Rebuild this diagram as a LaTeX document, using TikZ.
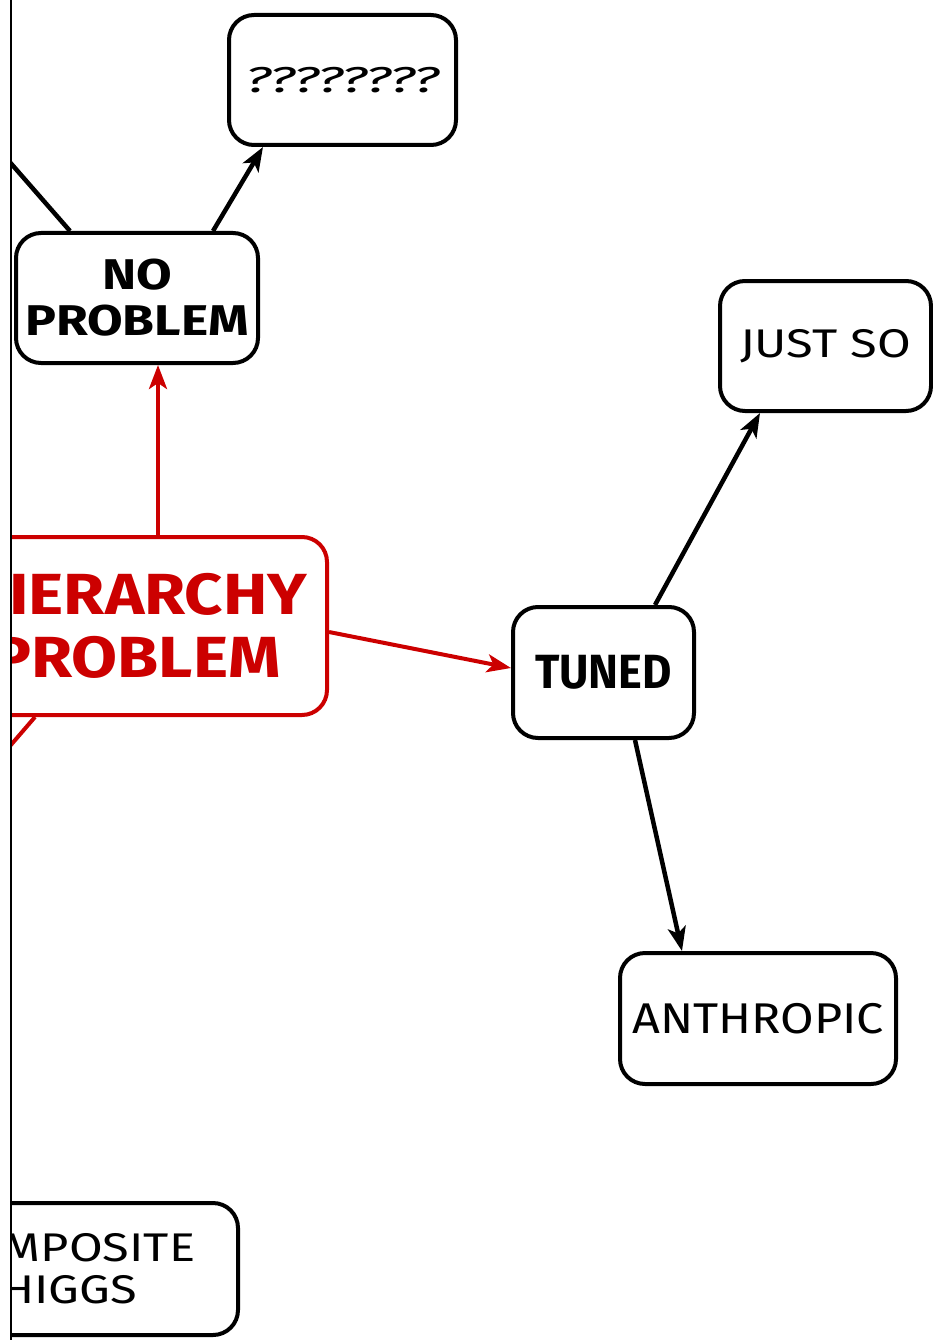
\documentclass[tikz,border=0pt]{standalone}
\usepackage{fontspec}
\setmainfont{Fira Sans}
\usepackage{graphicx}
\usetikzlibrary{arrows.meta,calc}
\definecolor{hred}{RGB}{204,0,0}
\newcommand{\hstretch}[2]{\scalebox{#1}[1]{#2}}
\begin{document}
\begin{tikzpicture}[x=1pt,y=-1pt,
  box/.style={draw=black, line width=4pt, rounded corners=25pt, fill=white, align=center, inner sep=0pt},
  redbox/.style={box, draw=hred, text=hred},
  arr/.style={line width=4.5pt, -{Stealth[length=24pt,width=18pt,inset=6pt]}},
  redarr/.style={arr, draw=hred, line width=4pt},
  plain/.style={line width=4.5pt},
  redplain/.style={line width=4pt, draw=hred}]
\useasboundingbox (0,0) rectangle (933,1340);
\begin{scope}
\clip (10,0) rectangle (933,1340);
% nodes
\node[box, minimum width=227pt, minimum height=130pt,
      font=\fontsize{36}{40}\selectfont\itshape] (q) at (342.5,80) {\hstretch{1.6}{????????}};
\node[box, minimum width=242pt, minimum height=130pt,
      font=\fontsize{43}{46}\selectfont\bfseries] (np) at (137,298) {\hstretch{1.2}{NO}\\\hstretch{1.2}{PROBLEM}};
\node[redbox, minimum width=382pt, minimum height=178pt,
      font=\fontsize{58}{63}\selectfont\bfseries] (hp) at (136,626) {\hstretch{1.15}{HIERARCHY}\\\hstretch{1.15}{PROBLEM}};
\node[box, minimum width=181pt, minimum height=131pt,
      font=\fontsize{48}{52}\selectfont\bfseries] (tuned) at (603.5,672.5) {\hstretch{0.94}{TUNED}};
\node[box, minimum width=211pt, minimum height=130pt,
      font=\fontsize{40}{44}\selectfont] (js) at (825.5,346) {\hstretch{1.22}{JUST SO}};
\node[box, minimum width=276pt, minimum height=131pt,
      font=\fontsize{43}{46}\selectfont] (an) at (758,1018.5) {\hstretch{1.13}{ANTHROPIC}};
\node[box, minimum width=338pt, minimum height=132pt,
      font=\fontsize{40}{42}\selectfont] (ch) at (69,1269) {\hstretch{1.22}{COMPOSITE}\\\hstretch{1.22}{HIGGS}};
% free ends
\coordinate (offA) at (-20,128);
\coordinate (offB) at (-15,775);
% connectors
\draw[plain] (offA) -- ($(np.north)+(-67,0)$);
\draw[arr] ($(np.north)+(76,0)$) -- ($(q.south)+(-79.5,0)$);
\draw[redarr] ($(hp.north)+(22,0)$) -- ($(np.south)+(21,0)$);
\draw[redarr] ($(hp.east)+(0,6)$) -- ($(tuned.west)+(0,-4.5)$);
\draw[redplain] ($(hp.south)+(-101,0)$) -- (offB);
\draw[arr] ($(tuned.north)+(51.5,0)$) -- ($(js.south)+(-65.5,0)$);
\draw[arr] ($(tuned.south)+(31.5,0)$) -- ($(an.north)+(-76,0)$);
\end{scope}
\draw[line width=2pt] (10.5,0) -- (10.5,1340);
\end{tikzpicture}
\end{document}
